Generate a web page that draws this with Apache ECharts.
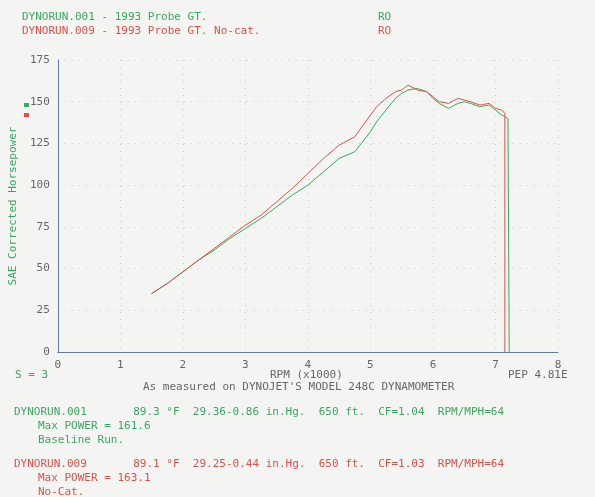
<!DOCTYPE html>
<html><head><meta charset="utf-8">
<script src="https://cdn.jsdelivr.net/npm/echarts@6/dist/echarts.min.js"></script>
<style>html,body{margin:0;padding:0;background:#f4f4f2}#c{width:595px;height:497px}</style>
</head><body><div id="c"></div>
<script>
const rpmRed = [1.5,1.75,2,2.25,2.5,2.75,3,3.25,3.5,3.75,4,4.25,4.5,4.75,5,5.1,5.25,5.4,5.5,5.6,5.75,5.9,6,6.1,6.25,6.4,6.5,6.6,6.75,6.9,7,7.1,7.15,7.15];
const hpRed  = [35,41,48,55,62,69,76,82,90,98,107,116,124,129,142,147,152,156,157,160,157,156,153,150,149,152,151,150,148,149,146,145,143,0];
const rpmGreen = [1.5,1.75,2,2.25,2.5,2.75,3,3.25,3.5,3.75,4,4.25,4.5,4.75,5,5.1,5.25,5.4,5.5,5.6,5.75,5.9,6,6.1,6.25,6.4,6.5,6.6,6.75,6.9,7,7.1,7.2,7.22];
const hpGreen  = [35,41,48,55,61,68,74,80,87,94,100,108,116,120,132,138,145,152,155,157,158,156,152,149,146,149,150,149,147,148,145,142,140,0];
const xTicks = [0,1,2,3,4,5,6,7,8];
const yTicks = [0,25,50,75,100,125,150,175];
const GREEN='#3aa860', RED='#e0504a', GREY='#666', F='DejaVu Sans Mono';
const zip=(a,b)=>a.map((v,i)=>[v,b[i]]);
const t=(x,y,s,c,extra)=>Object.assign({type:'text',left:x,top:y,style:{text:s,fill:c,font:'11px "DejaVu Sans Mono"'}},extra||{});
const chart=echarts.init(document.getElementById('c'));
chart.setOption({
  backgroundColor:'#f4f4f2',
  animation:false,
  grid:{left:52,right:37,top:60,bottom:145},
  xAxis:{type:'value',min:0,max:8,interval:1,
    axisLine:{lineStyle:{color:'#6677aa'}},axisTick:{show:false},
    axisLabel:{color:GREY,fontFamily:F,fontSize:11,formatter:v=>xTicks.includes(v)?String(v):''},
    splitLine:{show:true,lineStyle:{type:[1,6],color:'#c8c8c8'}}},
  yAxis:{type:'value',min:0,max:175,interval:25,
    axisLine:{show:true,lineStyle:{color:'#6677aa'}},axisTick:{show:false},
    axisLabel:{color:GREY,fontFamily:F,fontSize:11,formatter:v=>yTicks.includes(v)?String(v):''},
    splitLine:{show:true,lineStyle:{type:[1,6],color:'#c8c8c8'}},
    name:'SAE Corrected Horsepower',nameLocation:'middle',nameGap:28,
    nameTextStyle:{color:GREEN,fontFamily:F,fontSize:11}},
  series:[
    {type:'line',data:zip(rpmGreen,hpGreen),showSymbol:false,lineStyle:{color:GREEN,width:1}},
    {type:'line',data:zip(rpmRed,hpRed),showSymbol:false,lineStyle:{color:RED,width:1}}
  ],
  graphic:[
    t(22,12,'DYNORUN.001 - 1993 Probe GT.',GREEN),
    t(22,26,'DYNORUN.009 - 1993 Probe GT. No-cat.',RED),
    t(378,12,'RO',GREEN),t(378,26,'RO',RED),
    {type:'rect',left:24,top:103,shape:{width:5,height:4},style:{fill:GREEN}},
    {type:'rect',left:24,top:113,shape:{width:5,height:4},style:{fill:RED}},
    t(15,370,'S = 3',GREEN),
    t(270,370,'RPM (x1000)',GREY),
    t(508,370,'PEP 4.81E',GREY),
    t(143,382,'As measured on DYNOJET\'S MODEL 248C DYNAMOMETER',GREY),
    t(14,407,'DYNORUN.001       89.3 °F  29.36-0.86 in.Hg.  650 ft.  CF=1.04  RPM/MPH=64',GREEN),
    t(38,421,'Max POWER = 161.6',GREEN),
    t(38,435,'Baseline Run.',GREEN),
    t(14,459,'DYNORUN.009       89.1 °F  29.25-0.44 in.Hg.  650 ft.  CF=1.03  RPM/MPH=64',RED),
    t(38,473,'Max POWER = 163.1',RED),
    t(38,487,'No-Cat.',RED)
  ]
});
</script></body></html>
